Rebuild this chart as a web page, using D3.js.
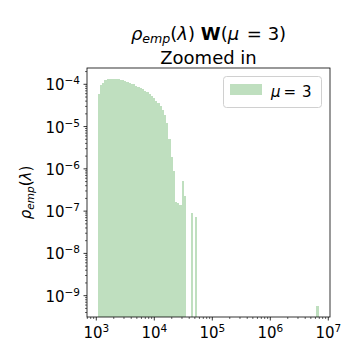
<!DOCTYPE html>
<html>
<head>
<meta charset="utf-8">
<script src="https://cdn.jsdelivr.net/npm/d3@7"></script>
<style>
body { margin: 0; background: #fff; }
text { font-family: "DejaVu Sans", sans-serif; fill: #000; }
</style>
</head>
<body>
<script>
// histogram bins (log spaced between the smallest and largest eigenvalue)
var binLo = 1057, binHi = 6.82e6, nBins = 100;
var density = [
  6.0e-5, 9.6e-5, 1.09e-4, 1.26e-4, 1.31e-4, 1.335e-4, 1.335e-4, 1.335e-4, 1.335e-4, 1.32e-4,
  1.29e-4, 1.24e-4, 1.18e-4, 1.13e-4, 1.09e-4, 1.03e-4, 9.9e-5, 9.3e-5, 8.8e-5, 8.2e-5,
  7.6e-5, 7.1e-5, 6.5e-5, 5.9e-5, 5.3e-5, 4.7e-5, 4.1e-5, 3.55e-5, 3.07e-5, 2.47e-5,
  1.88e-5, 1.23e-5, 5.0e-6, 1.88e-6, 9.0e-7, 1.65e-7, 1.53e-7, 1.42e-7, 5.2e-7, 2.3e-7,
  0, 0, 9.2e-8, 0, 7.4e-8, 0, 0, 0, 0, 0,
  0, 0, 0, 0, 0, 0, 0, 0, 0, 0,
  0, 0, 0, 0, 0, 0, 0, 0, 0, 0,
  0, 0, 0, 0, 0, 0, 0, 0, 0, 0,
  0, 0, 0, 0, 0, 0, 0, 0, 0, 0,
  0, 0, 0, 0, 0, 0, 0, 0, 0, 5.7e-10
];
var xTickExp = [3, 4, 5, 6, 7];
var yTickExp = [-9, -8, -7, -6, -5, -4];
var seriesLabel = "3"; // mu

var w = 360, h = 360;
var m = {left: 87, right: 30, top: 68, bottom: 43};

var svg = d3.select("body").append("svg")
    .attr("width", w)
    .attr("height", h);

var x = d3.scaleLog()
    .domain([691, 1.07e7])
    .range([m.left, w - m.right]);

var y = d3.scaleLog()
    .domain([3.13e-10, 2.43e-4])
    .range([h - m.bottom, m.top]);

// bin edges like np.logspace
var lg0 = Math.log10(binLo), lg1 = Math.log10(binHi);
var edges = d3.range(nBins + 1).map(function(i){
    return Math.pow(10, lg0 + (lg1 - lg0) * i / nBins);
});

var bins = density.map(function(d, i){
    return {x0: edges[i], x1: edges[i + 1], v: d};
}).filter(function(d){ return d.v > 0; });

svg.append("g")
    .selectAll("rect")
    .data(bins)
    .enter()
    .append("rect")
    .attr("x", function(d){ return x(d.x0); })
    .attr("width", function(d){ return x(d.x1) - x(d.x0); })
    .attr("y", function(d){ return y(d.v); })
    .attr("height", function(d){ return y.range()[0] - y(d.v); })
    .style("fill", "rgb(191,223,191)")
    .style("shape-rendering", "crispEdges");

// minor ticks for a log axis
function minors(lo, hi){
    var out = [];
    for (var e = lo; e <= hi; e++){
        for (var k = 2; k <= 9; k++) out.push(k * Math.pow(10, e));
    }
    return out;
}

var xMinor = minors(2, 7).filter(function(v){ return v > x.domain()[0] && v < x.domain()[1]; });
var yMinor = minors(-10, -4).filter(function(v){ return v > y.domain()[0] && v < y.domain()[1]; });

var bottom = h - m.bottom;

// x ticks
svg.append("g").selectAll("line")
    .data(xMinor).enter().append("line")
    .attr("x1", function(d){ return x(d); }).attr("x2", function(d){ return x(d); })
    .attr("y1", bottom).attr("y2", bottom + 2)
    .style("stroke", "#000").style("stroke-width", 0.6);

svg.append("g").selectAll("line")
    .data(xTickExp).enter().append("line")
    .attr("x1", function(d){ return x(Math.pow(10, d)); }).attr("x2", function(d){ return x(Math.pow(10, d)); })
    .attr("y1", bottom).attr("y2", bottom + 3.5)
    .style("stroke", "#000").style("stroke-width", 0.8);

var xl = svg.append("g").selectAll("text")
    .data(xTickExp).enter().append("text")
    .attr("x", function(d){ return x(Math.pow(10, d)); })
    .attr("y", 338)
    .attr("text-anchor", "middle")
    .style("font-size", "15px");
xl.append("tspan").text("10");
xl.append("tspan").attr("dy", -6).style("font-size", "10.5px").text(function(d){ return d; });

// y ticks
svg.append("g").selectAll("line")
    .data(yMinor).enter().append("line")
    .attr("y1", function(d){ return y(d); }).attr("y2", function(d){ return y(d); })
    .attr("x1", m.left).attr("x2", m.left - 2)
    .style("stroke", "#000").style("stroke-width", 0.6);

svg.append("g").selectAll("line")
    .data(yTickExp).enter().append("line")
    .attr("y1", function(d){ return y(Math.pow(10, d)); }).attr("y2", function(d){ return y(Math.pow(10, d)); })
    .attr("x1", m.left).attr("x2", m.left - 3.5)
    .style("stroke", "#000").style("stroke-width", 0.8);

var yl = svg.append("g").selectAll("text")
    .data(yTickExp).enter().append("text")
    .attr("x", m.left - 7)
    .attr("y", function(d){ return y(Math.pow(10, d)) + 6; })
    .attr("text-anchor", "end")
    .style("font-size", "15px");
yl.append("tspan").text("10");
yl.append("tspan").attr("dy", -6).style("font-size", "10.5px").text(function(d){ return "\u2212" + Math.abs(d); });

// frame
svg.append("rect")
    .attr("x", m.left).attr("y", m.top)
    .attr("width", w - m.right - m.left)
    .attr("height", h - m.bottom - m.top)
    .style("fill", "none").style("stroke", "#000").style("stroke-width", 0.8);

// y label
var ylab = svg.append("text")
    .attr("transform", "translate(31," + ((m.top + bottom) / 2) + ") rotate(-90)")
    .attr("text-anchor", "middle")
    .style("font-size", "15px");
ylab.append("tspan").style("font-style", "italic").text("\u03c1");
ylab.append("tspan").style("font-style", "italic").style("font-size", "10.5px").attr("dy", 3).text("emp");
ylab.append("tspan").attr("dy", -3).text("(");
ylab.append("tspan").style("font-style", "italic").text("\u03bb");
ylab.append("tspan").text(")");

// title
var cx = (m.left + w - m.right) / 2;
var t1 = svg.append("text")
    .attr("x", cx).attr("y", 39.5)
    .attr("text-anchor", "middle")
    .style("font-size", "18px");
t1.append("tspan").style("font-style", "italic").text("\u03c1");
t1.append("tspan").style("font-style", "italic").style("font-size", "12.6px").attr("dy", 3.5).text("emp");
t1.append("tspan").attr("dy", -3.5).text("(");
t1.append("tspan").style("font-style", "italic").text("\u03bb");
t1.append("tspan").text(") ");
t1.append("tspan").style("font-weight", "bold").text("W");
t1.append("tspan").text("(");
t1.append("tspan").style("font-style", "italic").text("\u03bc");
t1.append("tspan").attr("dx", 2).text(" = " + seriesLabel + ")");

svg.append("text")
    .attr("x", cx).attr("y", 64)
    .attr("text-anchor", "middle")
    .style("font-size", "18px")
    .text("Zoomed in");

// legend
var lg = svg.append("g");
lg.append("rect")
    .attr("x", 223.5).attr("y", 76.5)
    .attr("width", 98).attr("height", 31)
    .attr("rx", 3)
    .style("fill", "#fff").style("fill-opacity", 0.8)
    .style("stroke", "#d0d0d0").style("stroke-width", 1);
lg.append("rect")
    .attr("x", 230).attr("y", 84)
    .attr("width", 32).attr("height", 11)
    .style("fill", "rgb(191,223,191)");
var lt = lg.append("text")
    .attr("x", 271).attr("y", 97)
    .style("font-size", "15px");
lt.append("tspan").style("font-style", "italic").text("\u03bc");
lt.append("tspan").attr("dx", 3).text("= ");
lt.append("tspan").attr("dx", 1).text(seriesLabel);
</script>
</body>
</html>
